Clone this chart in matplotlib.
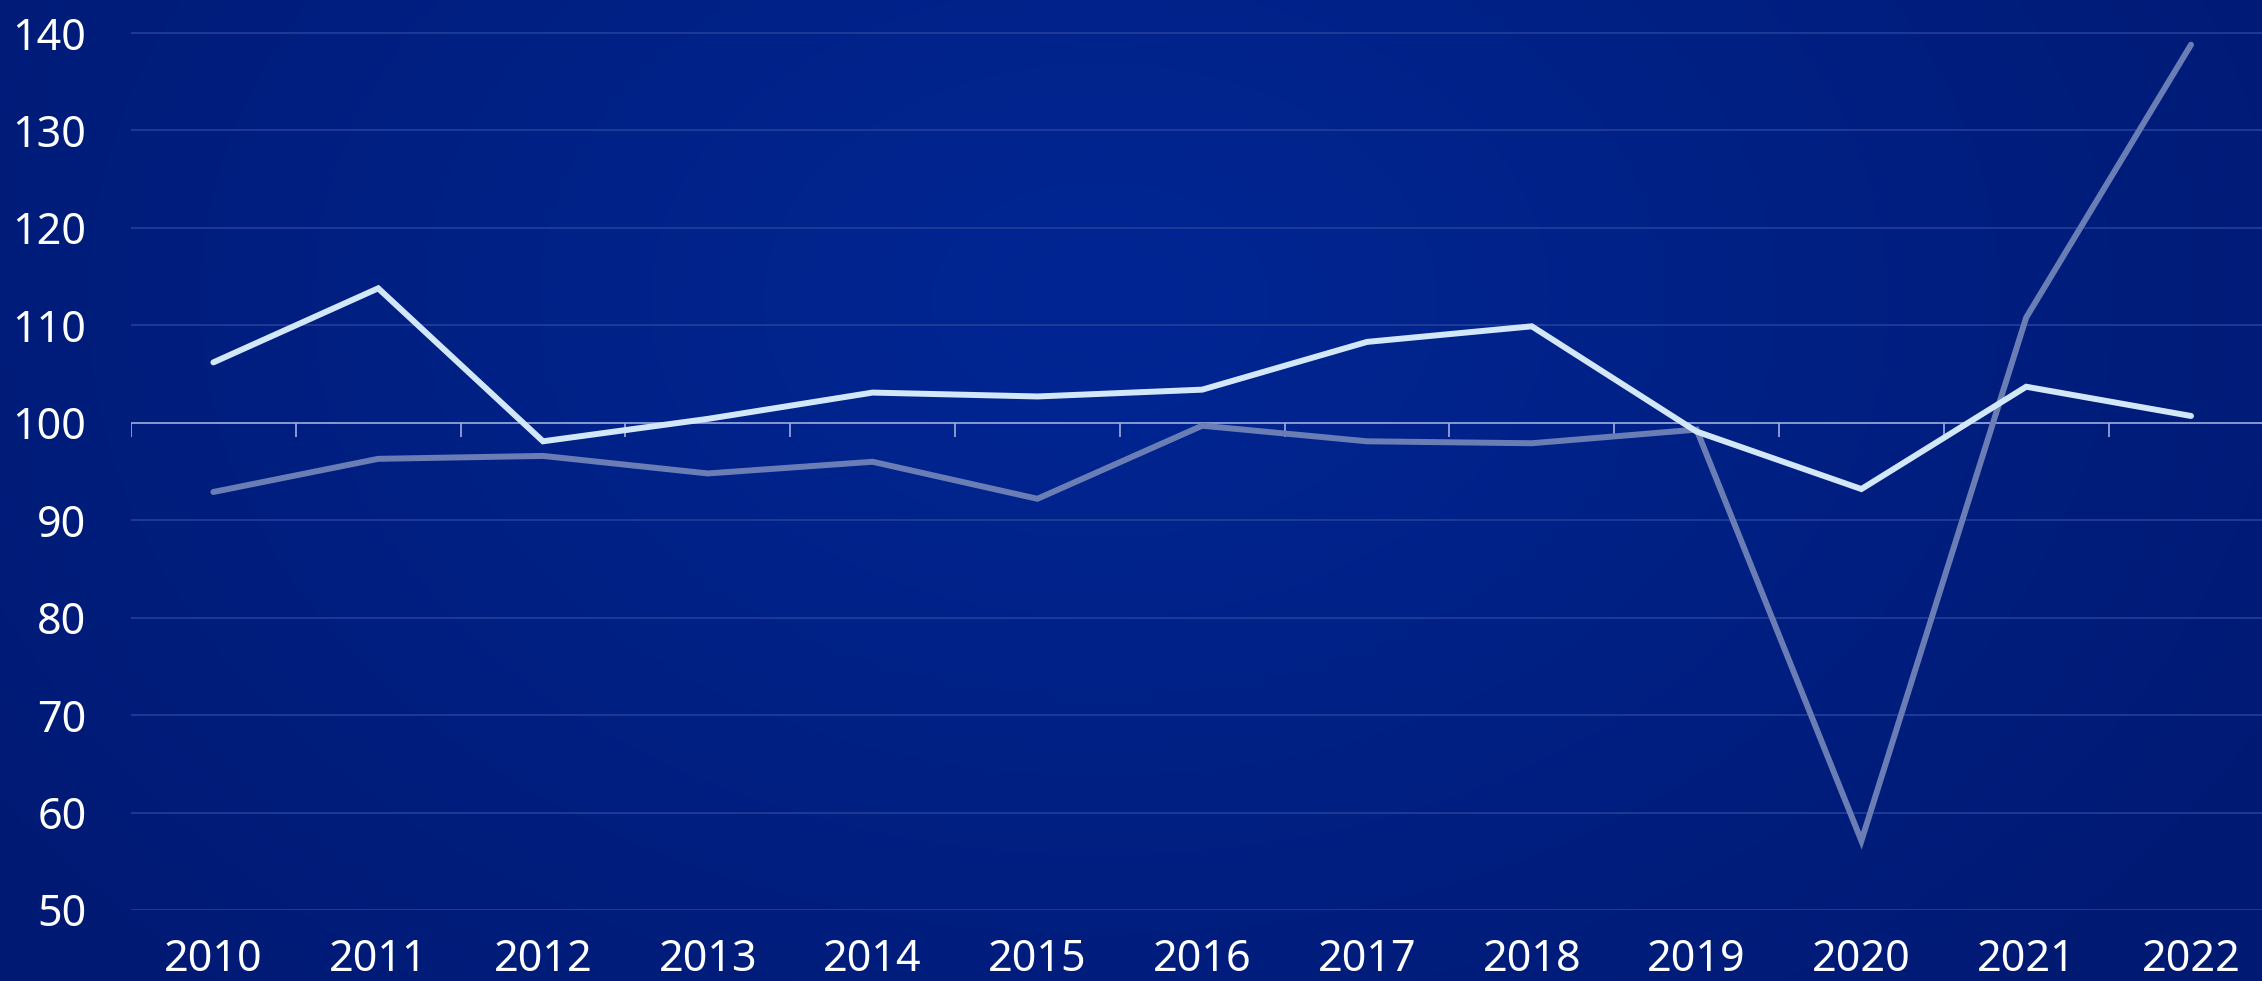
import numpy as np
import matplotlib
matplotlib.use("Agg")
import matplotlib.pyplot as plt

years = ["2010", "2011", "2012", "2013", "2014", "2015", "2016",
         "2017", "2018", "2019", "2020", "2021", "2022"]
light_series = [106.2, 113.8, 98.1, 100.4, 103.1, 102.7, 103.4,
                108.3, 109.9, 99.1, 93.2, 103.7, 100.7]
grey_series = [92.9, 96.3, 96.6, 94.8, 96.0, 92.2, 99.7,
               98.1, 97.9, 99.3, 57.1, 110.8, 138.8]
yticks = [50, 60, 70, 80, 90, 100, 110, 120, 130, 140]

plt.rcParams['font.family'] = ['Noto Sans', 'DejaVu Sans']

W, H = 2262, 981
fig = plt.figure(figsize=(W / 100, H / 100), dpi=100)

# radial gradient background
bg = fig.add_axes([0, 0, 1, 1])
yy, xx = np.mgrid[0:H, 0:W]
r = np.sqrt(((xx - 1100) / 1350.0) ** 2 + ((yy - 300) / 950.0) ** 2)
r = np.clip(r, 0, 1)
c0 = np.array([0x00, 0x26, 0x94]) / 255
c1 = np.array([0x00, 0x1a, 0x74]) / 255
img = c0[None, None, :] * (1 - r[..., None]) + c1[None, None, :] * r[..., None]
bg.imshow(img, aspect='auto', extent=[0, 1, 0, 1])
bg.axis('off')

left = 131 / W
bottom = (H - 910) / H
ax = fig.add_axes([left, bottom, 1 - left, 910 / H])
ax.patch.set_alpha(0)

x = np.arange(len(years))
band = 164.8
xmax = -0.5 + (W - 131) / band
ax.set_xlim(-0.5, xmax)
ymax = 140 + 33 / 97.4 * 10
ax.set_ylim(50, ymax)

for v in yticks:
    if v != 100:
        ax.axhline(v, color='#243f9c', lw=1.2, zorder=1)
ax.axhline(100, color='#9fade0', lw=1.2, zorder=2)
ax.vlines(np.arange(-0.5, len(years)), 100 - 14 / 9.74, 100,
          color='#9fade0', lw=1.2, zorder=2)

ax.plot(x, grey_series, color='#6a7db5', lw=4.3, solid_capstyle='round',
        solid_joinstyle='miter', zorder=3)
ax.plot(x, light_series, color='#d2e7f8', lw=4.3, solid_capstyle='round',
        solid_joinstyle='miter', zorder=4)

for s in ax.spines.values():
    s.set_visible(False)
ax.set_yticks(yticks)
ax.set_xticks(x)
ax.set_xticklabels(years)
ax.tick_params(axis='both', length=0, colors='white', labelsize=31)
ax.tick_params(axis='y', pad=32)
ax.tick_params(axis='x', pad=20)

fig.savefig("out.png", dpi=100)
